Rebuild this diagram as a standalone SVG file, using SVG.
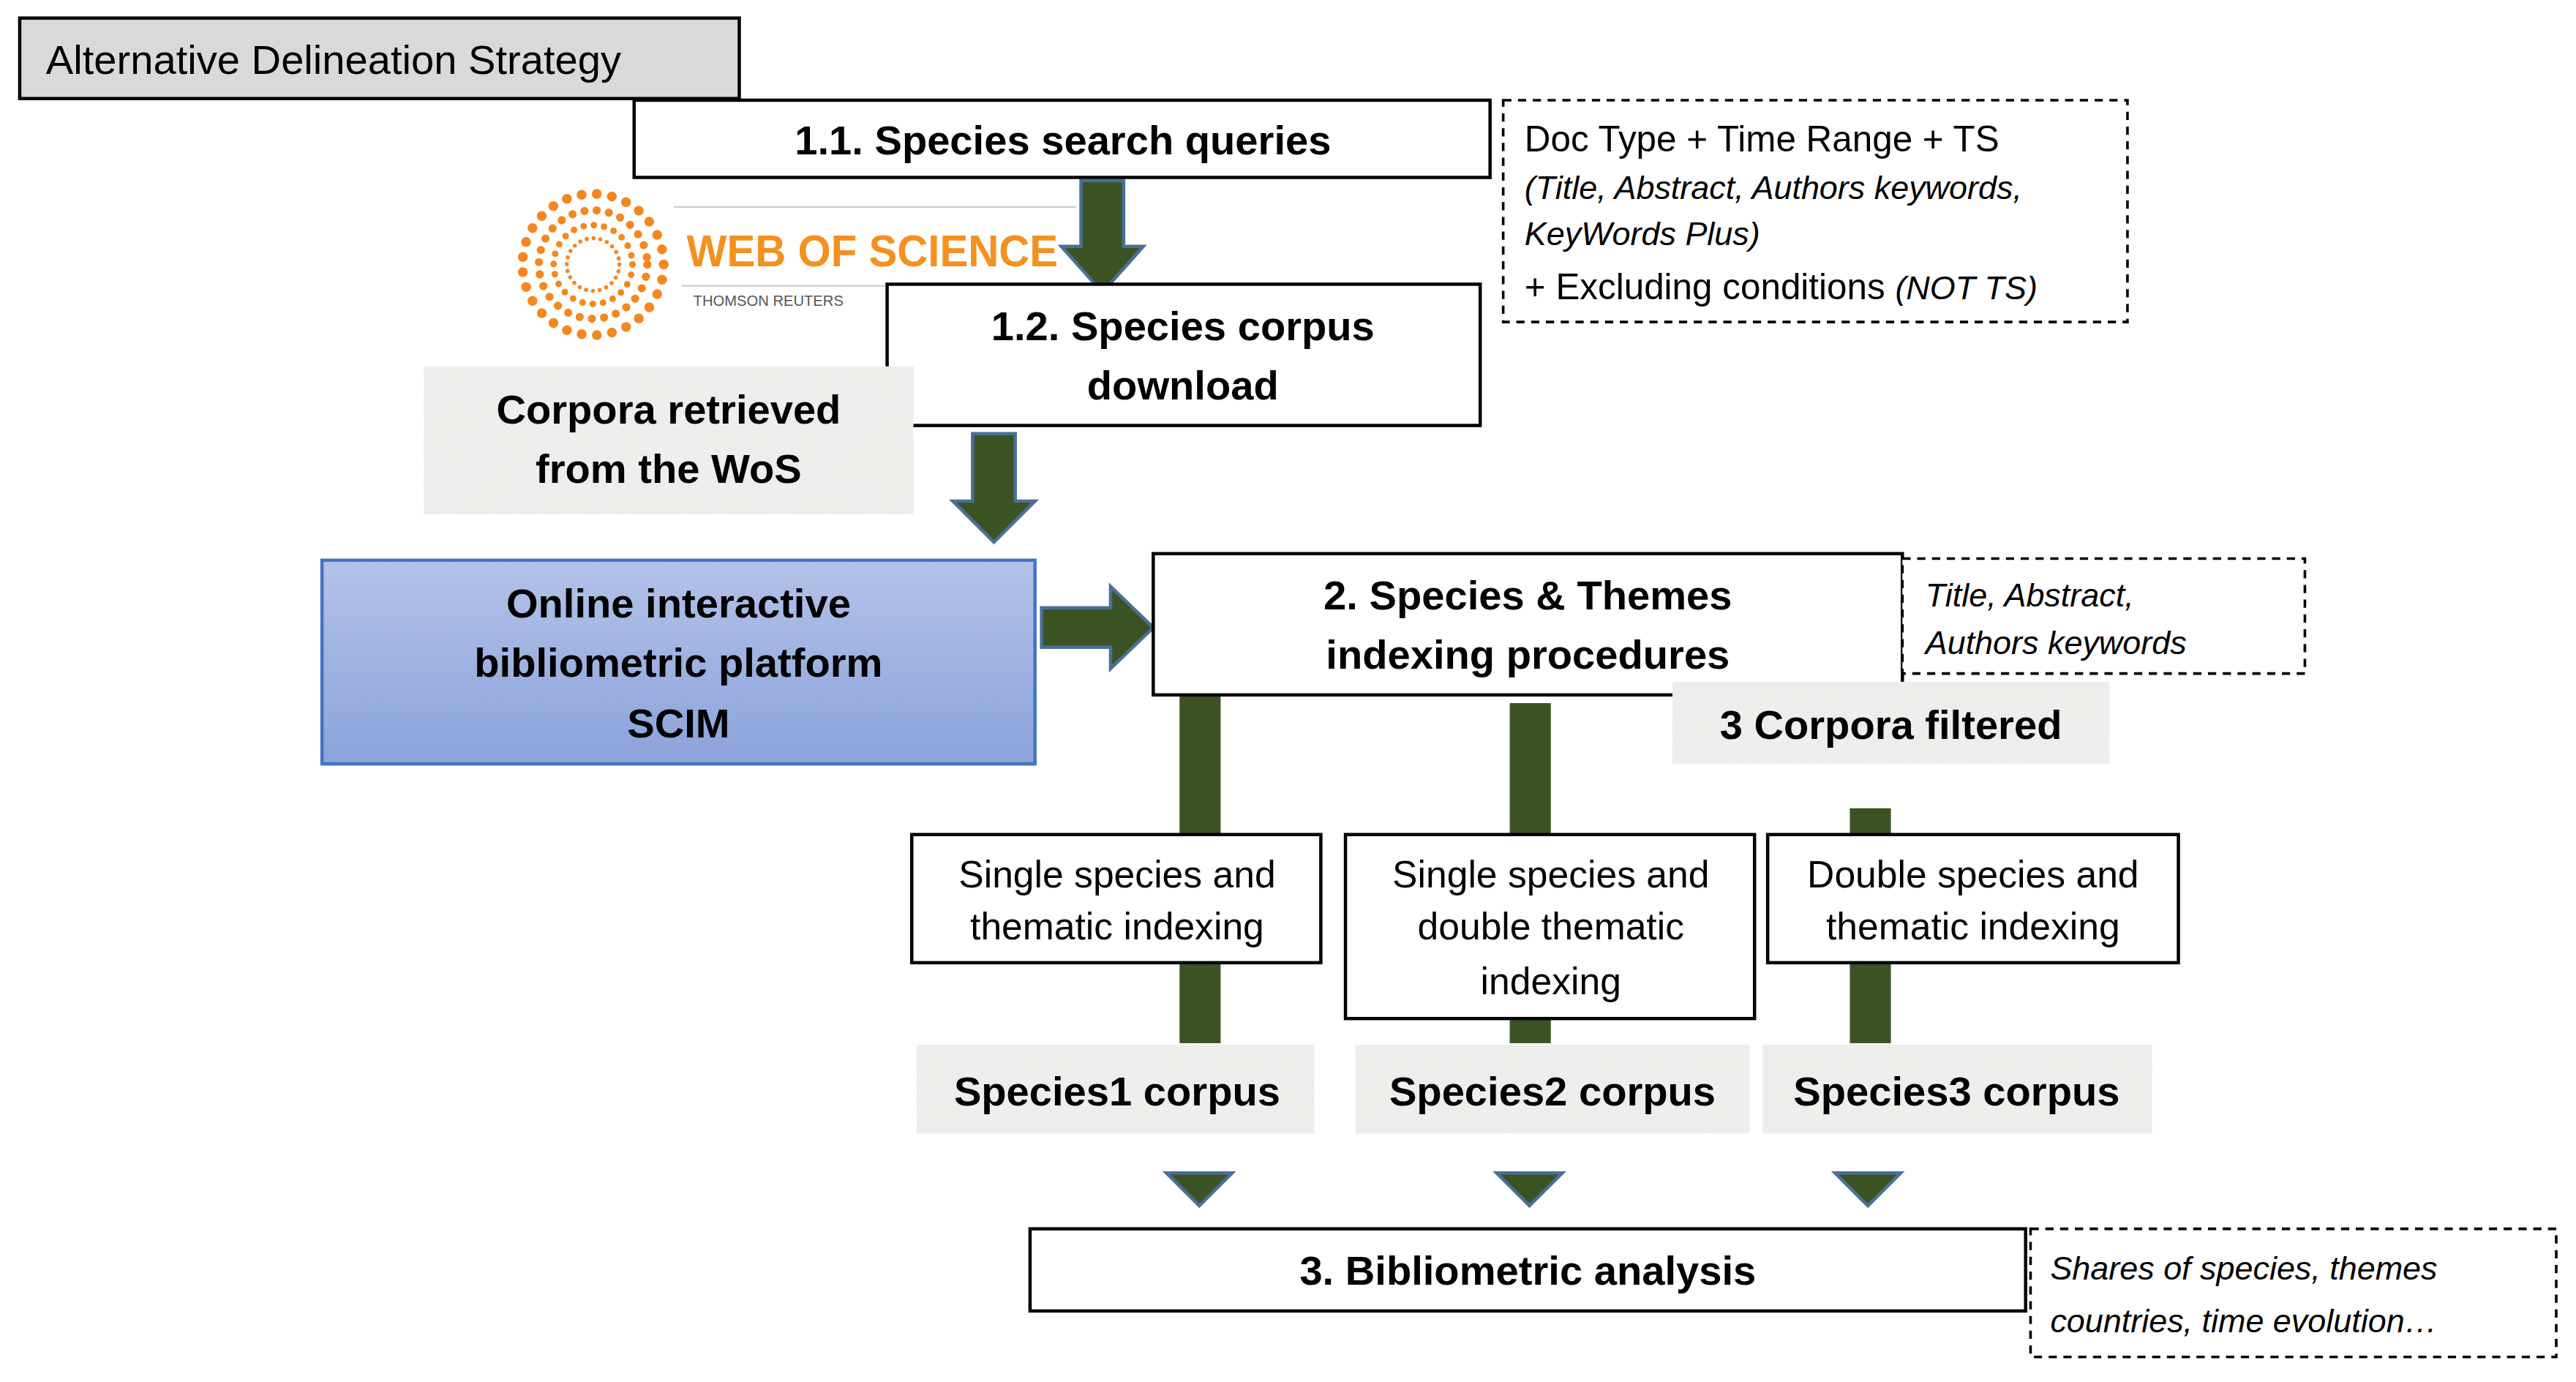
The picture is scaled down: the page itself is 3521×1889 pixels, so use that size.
<svg xmlns="http://www.w3.org/2000/svg" width="3521" height="1889" viewBox="0 0 3521 1889">
<style>
.box{fill:#fff;stroke:#000;stroke-width:2}
.dash{fill:#fff;stroke:#000;stroke-width:1.6;stroke-dasharray:5 4}
.t{font-family:"Liberation Sans",Arial,sans-serif;fill:#000}
.b{font-weight:bold;font-size:25px;text-anchor:middle}
.n{font-size:23px;text-anchor:middle}
.i{font-style:italic;font-size:20px}
.arr{fill:#3b5323;stroke:#4a6e9a;stroke-width:2}
.bar{fill:#3b5323}
.tex{fill:#eeeeec;filter:url(#grain)}
.dots{fill:none;stroke:#f7861e;stroke-linecap:round}
</style>
<defs>
<filter id="grain" x="0" y="0" width="100%" height="100%">
<feTurbulence type="fractalNoise" baseFrequency="0.9" numOctaves="2" seed="3" result="n"/>
<feColorMatrix in="n" type="matrix" values="0 0 0 0 0.82  0 0 0 0 0.82  0 0 0 0 0.8  0 0 0 1.2 -0.45" result="c"/>
<feComposite in="c" in2="SourceGraphic" operator="in" result="d"/>
<feMerge><feMergeNode in="SourceGraphic"/><feMergeNode in="d"/></feMerge>
</filter>
<linearGradient id="blue" x1="0" y1="0" x2="0" y2="1">
<stop offset="0" stop-color="#b3c2e8"/><stop offset="1" stop-color="#8aa3db"/>
</linearGradient>
</defs>
<rect width="3521" height="1889" fill="#fff"/>
<g transform="scale(2.2455)">
<g id="connectors">
<rect class="bar" x="718" y="423" width="25" height="212"/>
<rect class="bar" x="919" y="428" width="25" height="207"/>
<rect class="bar" x="1126" y="492" width="25" height="143"/>
<path class="arr" d="M658,110 H684 V150 H696 L671,178 L646,150 H658 Z"/>
<path class="arr" d="M592,264 H618 V305 H630 L605,330 L580,305 H592 Z"/>
<path class="arr" d="M634,370 H676 V357 L702,382 L676,407 V394 H634 Z"/>
<path class="arr" d="M710,714 H750 L730,734 Z"/>
<path class="arr" d="M911,714 H951 L931,734 Z"/>
<path class="arr" d="M1117,714 H1157 L1137,734 Z"/>
</g>
<g id="title"><rect x="12" y="11" width="438" height="49" fill="#d9d9d9" stroke="#000" stroke-width="2"/>
<text class="t" x="28" y="45" font-size="25">Alternative Delineation Strategy</text></g>
<g id="wos">
<line x1="410" y1="126" x2="655" y2="126" stroke="#ccc" stroke-width="1"/>
<line x1="415" y1="174" x2="540" y2="174" stroke="#ccc" stroke-width="1"/>
<circle class="dots" cx="361" cy="161" r="43" stroke-width="6" stroke-dasharray="0 9.3"/>
<circle class="dots" cx="361" cy="161" r="33" stroke-width="5" stroke-dasharray="0 7.5"/>
<circle class="dots" cx="361" cy="161" r="24" stroke-width="4" stroke-dasharray="0 6.3"/>
<circle class="dots" cx="361" cy="161" r="16" stroke-width="2.5" stroke-dasharray="0 4.2"/>
<text class="t" x="418" y="162" font-size="27" font-weight="bold" fill="#f7861e" style="fill:#f5901e" textLength="226" lengthAdjust="spacingAndGlyphs">WEB OF SCIENCE</text>
<text class="t" x="422" y="186" font-size="9" style="fill:#555">THOMSON REUTERS</text>
</g>
<g id="n11"><rect class="box" x="386" y="61" width="521" height="47"/>
<text class="t b" x="647" y="94">1.1. Species search queries</text></g>
<g id="q1"><rect class="dash" x="915" y="61" width="380" height="135"/>
<text class="t" x="928" y="92" font-size="22">Doc Type + Time Range  + TS</text>
<text class="t i" x="928" y="121">(Title, Abstract, Authors keywords,</text>
<text class="t i" x="928" y="149">KeyWords Plus)</text>
<text class="t" x="928" y="182" font-size="22">+ Excluding conditions <tspan font-style="italic" font-size="20">(NOT TS)</tspan></text></g>
<g id="n12"><rect class="box" x="540" y="173" width="361" height="86"/>
<text class="t b" x="720" y="207">1.2. Species corpus</text>
<text class="t b" x="720" y="243">download</text></g>
<g id="corpora"><rect class="tex" x="258" y="223" width="298" height="90"/>
<text class="t b" x="407" y="258">Corpora retrieved</text>
<text class="t b" x="407" y="294">from the WoS</text></g>
<g id="scim"><rect x="196" y="341" width="434" height="124" fill="url(#blue)" stroke="#4472c4" stroke-width="2"/>
<text class="t b" x="413" y="376">Online interactive</text>
<text class="t b" x="413" y="412">bibliometric platform</text>
<text class="t b" x="413" y="449">SCIM</text></g>
<g id="n2"><rect class="box" x="702" y="337" width="456" height="86"/>
<text class="t b" x="930" y="371">2. Species &amp; Themes</text>
<text class="t b" x="930" y="407">indexing procedures</text></g>
<g id="q2"><rect class="dash" x="1158" y="340" width="245" height="70"/>
<text class="t i" x="1172" y="369">Title, Abstract,</text>
<text class="t i" x="1172" y="398">Authors keywords</text></g>
<g id="filtered"><rect class="tex" x="1018" y="415" width="266" height="50"/>
<text class="t b" x="1151" y="450">3 Corpora filtered</text></g>
<g id="a"><rect class="box" x="555" y="508" width="249" height="78"/>
<text class="t n" x="680" y="540">Single species and</text>
<text class="t n" x="680" y="572">thematic indexing</text></g>
<g id="bx"><rect class="box" x="819" y="508" width="249" height="112"/>
<text class="t n" x="944" y="540">Single species and</text>
<text class="t n" x="944" y="572">double thematic</text>
<text class="t n" x="944" y="605">indexing</text></g>
<g id="c"><rect class="box" x="1076" y="508" width="250" height="78"/>
<text class="t n" x="1201" y="540">Double species and</text>
<text class="t n" x="1201" y="572">thematic indexing</text></g>
<g id="s1"><rect class="tex" x="558" y="636" width="242" height="54"/>
<text class="t b" x="680" y="673">Species1 corpus</text></g>
<g id="s2"><rect class="tex" x="825" y="636" width="240" height="54"/>
<text class="t b" x="945" y="673">Species2 corpus</text></g>
<g id="s3"><rect class="tex" x="1073" y="636" width="237" height="54"/>
<text class="t b" x="1191" y="673">Species3 corpus</text></g>
<g id="n3"><rect class="box" x="627" y="748" width="606" height="50"/>
<text class="t b" x="930" y="782">3. Bibliometric analysis</text></g>
<g id="q3"><rect class="dash" x="1236" y="748" width="320" height="78"/>
<text class="t i" x="1248" y="779" font-size="22">Shares of species, themes</text>
<text class="t i" x="1248" y="811" font-size="22">countries, time evolution…</text></g>
</g>
</svg>
